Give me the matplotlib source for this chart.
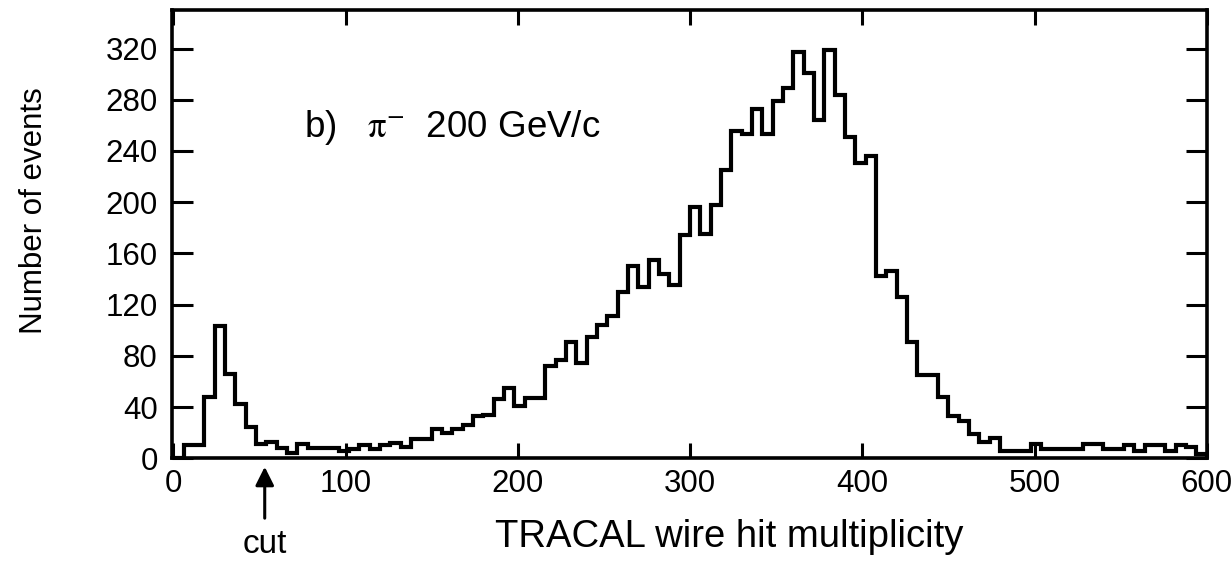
import numpy as np
import matplotlib
matplotlib.use("Agg")
import matplotlib.pyplot as plt

plt.rcParams['font.family'] = ['Liberation Sans', 'DejaVu Sans']
plt.rcParams['mathtext.fontset'] = 'stix'

# histogram: 100 bins of width 6 from 0 to 600
edges = np.arange(0, 606, 6)
counts = [0, 10, 10, 48, 103, 66, 42, 24, 11, 13,
          8, 4, 11, 8, 8, 8, 6, 7, 10, 7,
          10, 12, 9, 15, 15, 23, 20, 23, 26, 33,
          34, 46, 55, 41, 47, 47, 72, 77, 91, 74,
          95, 104, 111, 130, 150, 134, 155, 144, 135, 174,
          196, 175, 198, 225, 256, 253, 273, 253, 279, 289,
          317, 301, 264, 319, 284, 251, 231, 236, 142, 146,
          126, 91, 65, 65, 48, 33, 29, 19, 13, 16,
          6, 6, 6, 11, 7, 7, 7, 7, 11, 11,
          7, 7, 10, 6, 10, 10, 6, 10, 9, 3]

yticks = [0, 40, 80, 120, 160, 200, 240, 280, 320]
xticks = [0, 100, 200, 300, 400, 500, 600]
cut_value = 53

fig = plt.figure(figsize=(12.31, 5.65), dpi=100)
ax = fig.add_axes([0.1395, 0.189, 0.8408, 0.793])

ax.stairs(counts, edges, baseline=0, color='black', lw=3)

ax.set_xlim(-1, 600)
ax.set_ylim(0, 350)
ax.set_xticks(xticks)
ax.set_yticks(yticks)
ax.tick_params(axis='both', direction='in', top=True, right=True,
               width=2.2, labelsize=22.5)
ax.tick_params(axis='y', length=15, pad=10)
ax.tick_params(axis='x', length=11, pad=8)
for s in ax.spines.values():
    s.set_linewidth(2.6)

ax.set_ylabel('Number of events', fontsize=22.5)
ax.yaxis.set_label_coords(-0.119, 0.552)
ax.set_xlabel('TRACAL wire hit multiplicity', fontsize=27.5)
ax.xaxis.set_label_coords(0.539, -0.135)

ax.text(76, 258, r'b)   $\mathrm{\pi}^{-}$  200 GeV/c', fontsize=26.5,
        ha='left', va='center')

# cut arrow below the axis
ax.annotate('', xy=(cut_value, -0.013), xytext=(cut_value, -0.14),
            xycoords=('data', 'axes fraction'),
            textcoords=('data', 'axes fraction'),
            arrowprops=dict(arrowstyle='-|>', color='black', lw=2.2,
                            mutation_scale=28),
            annotation_clip=False)
ax.text(cut_value, -0.192, 'cut', fontsize=24, ha='center', va='center',
        transform=ax.get_xaxis_transform())

fig.savefig('out.png', dpi=100)
